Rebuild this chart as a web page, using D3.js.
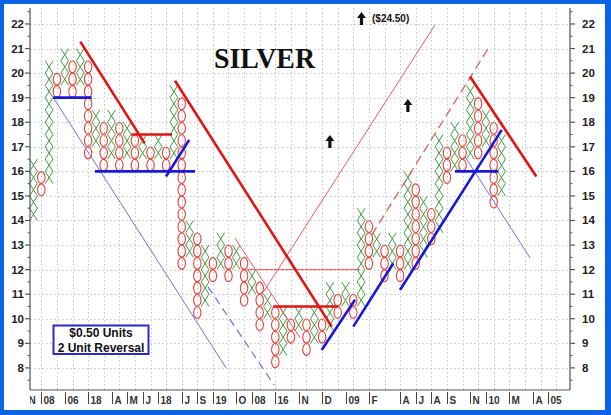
<!DOCTYPE html>
<html><head><meta charset="utf-8">
<script src="https://cdn.jsdelivr.net/npm/d3@7"></script>
<style>body{margin:0;background:#fff}svg{display:block}</style>
</head><body><svg id="c" width="611" height="415"></svg>
<script>
// ---- data ----
const colType = "XOXOXOXOXOXOXOXOXOXOXOXOXOXOXOXOXOXOXOXOXOXOXOXOXOXOXOXOXOXOX";
const colLow  = [14,15,15.5,19,19.5,19,19.5,16.5,17,16,16.5,16,16.5,16,16.5,16,16.5,16,16.5,12,12.5,10,10.5,11.5,12,11.5,12,10.5,11,9.5,10,8,8.5,9,9.5,8.5,9,9,9.5,10,10.5,10,10.5,12,12.5,11.5,12,11.5,12,12,12.5,13,13.5,15.5,16,16,16.5,16.5,17,14.5,15];
const colHigh = [16.5,16,20.5,20,21,20.5,21,20.5,18.5,18,18.5,18,18,17.5,17.5,17,17.5,17,19.5,19,14,13.5,13,12.5,13.5,13,13,12.5,12,11.5,11,10.5,10.5,10,10.5,10,10.5,10,11.5,11,11.5,11,14.5,14,13.5,13,13.5,13,16,15.5,15,14.5,17.5,17,18,17.5,19.5,19,18.5,18,17.5];
const boxSize = 0.5;
const yTicks = [8,9,10,11,12,13,14,15,16,17,18,19,20,21,22];
const xLabels    = ["N","08","06","18","A","M","J","18","J","S","19","O","08","16","N","D","09","F","A","J","A","S","N","10","M","A","05"];
const xLabelCols = [-1,1,4,7,10,12,14,16,19,21,23,26,28,31,34,37,40,43,47,49,51,53,56,58,61,64,66];
// trend lines [col1, value1, col2, value2]
const redThick = [[6.5,21.28,14.76,17.14],[13.04,17.5,18.26,17.5],[18.64,19.69,38.73,9.68],[31.24,10.5,39.58,10.5],[56.46,19.86,64.97,15.79]];
const redThin  = [[27.83,12,42.36,12],[29.8,11.0,51.97,21.96],[26.33,13.28,34.67,9.22]];
const redDashed = [[43.86,13.41,58.81,21.01]];
const blueThick = [[3.04,19,7.96,19],[8.38,16,21.21,16],[17.49,15.79,20.47,17.28],[37.45,8.73,41.72,10.77],[41.5,9.68,46.63,12.26],[47.49,11.17,60.53,17.69],[54.54,16,60.09,16]];
const blueThin = [[3.04,19,25.18,8.0],[55.82,16.6,64.15,12.48]];
const blueDashed = [[22.87,11.3,31.33,7.31]];
const arrows = [[42.55,21.96],[38.5,16.95],[48.5,18.42]];
const title = "SILVER";
const objectiveLabel = "($24.50)";
const boxLines = ["$0.50 Units","2 Unit Reversal"];

// ---- layout ----
const svg = d3.select("#c");
const L = 30, R = 570, T = 8, B = 390;
const x = d3.scaleLinear().domain([0, 69]).range([29.6, 29.6 + 69 * 7.8]);
const y = d3.scaleLinear().domain([7.1, 22.65]).range([B, T]);

// frame
svg.append("rect").attr("width", 611).attr("height", 415).attr("fill", "#0b63e5");
svg.append("rect").attr("x", 4).attr("y", 4).attr("width", 601).attr("height", 406).attr("fill", "#fff");

// grid
const g = svg.append("g");
g.selectAll(".hg").data(yTicks).join("line")
  .attr("x1", L).attr("x2", R).attr("y1", d => Math.round(y(d)) + 0.5).attr("y2", d => Math.round(y(d)) + 0.5)
  .attr("stroke", "#c4c4c4").attr("stroke-dasharray", "1.5,2.5").attr("stroke-width", 1);
const vcols = d3.range(1, 69, 2);
g.selectAll(".vg").data(vcols).join("line")
  .attr("x1", d => Math.round(x(d + 0.5)) + 0.5).attr("x2", d => Math.round(x(d + 0.5)) + 0.5)
  .attr("y1", T).attr("y2", B)
  .attr("stroke", "#c4c4c4").attr("stroke-dasharray", "1.5,2.5").attr("stroke-width", 1);

// boxes
const cols = colLow.map((lo, i) => ({i, t: colType[i], lo, hi: colHigh[i]}));
const boxes = [];
cols.forEach(c => { for (let v = c.lo; v < c.hi - 1e-9; v += boxSize) boxes.push({i: c.i, t: c.t, v}); });
const marks = svg.append("g");
boxes.filter(b => b.t === "X").forEach(b => {
  const x0 = x(b.i), x1 = x(b.i + 1), y0 = y(b.v + boxSize), y1 = y(b.v);
  marks.append("path")
    .attr("d", `M${x0},${y0}L${x1},${y1}M${x1},${y0}L${x0},${y1}`)
    .attr("stroke", "#3f9a3f").attr("stroke-width", 1).attr("fill", "none");
});
boxes.filter(b => b.t === "O").forEach(b => {
  marks.append("ellipse")
    .attr("cx", x(b.i + 0.5)).attr("cy", y(b.v + boxSize / 2))
    .attr("rx", 3.7).attr("ry", 5.9)
    .attr("stroke", "#e8403a").attr("stroke-width", 1.1).attr("fill", "none");
});

// trend lines
function drawLines(data, color, width, dash) {
  svg.append("g").selectAll("line").data(data).join("line")
    .attr("x1", d => x(d[0])).attr("y1", d => y(d[1]))
    .attr("x2", d => x(d[2])).attr("y2", d => y(d[3]))
    .attr("stroke", color).attr("stroke-width", width)
    .attr("stroke-dasharray", dash || null).attr("stroke-linecap", "butt");
}
drawLines(redThin, "#ec5a5a", 1);
drawLines(redDashed, "#e25050", 1.2, "9,5");
drawLines(blueThin, "#6e6ee6", 1);
drawLines(blueDashed, "#6e6ee6", 1.2, "8,5");
drawLines(redThick, "#e01414", 2.6);
drawLines(blueThick, "#1818d6", 2.6);

// axes
const ax = svg.append("g").attr("stroke", "#555").attr("stroke-width", 1.2);
ax.append("line").attr("x1", L).attr("x2", L).attr("y1", T).attr("y2", B);
ax.append("line").attr("x1", R).attr("x2", R).attr("y1", T).attr("y2", B);
ax.append("line").attr("x1", L).attr("x2", R).attr("y1", B).attr("y2", B);
const minor = d3.range(7.5, 22.6, 0.5).filter(v => !yTicks.includes(v));
yTicks.forEach(v => {
  ax.append("line").attr("x1", L - 5).attr("x2", L).attr("y1", y(v)).attr("y2", y(v));
  ax.append("line").attr("x1", R).attr("x2", R + 5).attr("y1", y(v)).attr("y2", y(v));
});
minor.forEach(v => {
  ax.append("line").attr("x1", L - 2.5).attr("x2", L).attr("y1", y(v)).attr("y2", y(v)).attr("stroke-width", 1);
  ax.append("line").attr("x1", R).attr("x2", R + 2.5).attr("y1", y(v)).attr("y2", y(v)).attr("stroke-width", 1);
});
const font = "'Liberation Sans', Arial, sans-serif";
svg.append("g").selectAll("text").data(yTicks).join("text")
  .attr("x", 24).attr("y", d => y(d) + 4).attr("text-anchor", "end")
  .attr("font-family", font).attr("font-weight", "bold").attr("font-size", 11.5).attr("fill", "#222").text(d => d);
svg.append("g").selectAll("text").data(yTicks).join("text")
  .attr("x", 582).attr("y", d => y(d) + 4).attr("text-anchor", "start")
  .attr("font-family", font).attr("font-weight", "bold").attr("font-size", 11.5).attr("fill", "#222").text(d => d);

// x labels
svg.append("clipPath").attr("id", "xc").append("rect").attr("x", L).attr("y", B).attr("width", 560).attr("height", 20);
const xl = svg.append("g").attr("clip-path", "url(#xc)");
xLabels.forEach((t, k) => {
  const px = Math.round(x(xLabelCols[k] + 0.5)) + 0.5;
  xl.append("line").attr("x1", px).attr("x2", px).attr("y1", 392).attr("y2", 404).attr("stroke", "#444").attr("stroke-width", 1);
  xl.append("text").attr("x", px + 2).attr("y", 403.5)
    .attr("font-family", font).attr("font-weight", "bold").attr("font-size", 10).attr("fill", "#333").text(t);
});

// arrows
arrows.forEach(a => {
  const px = x(a[0]), py = y(a[1]);
  svg.append("path")
    .attr("d", `M${px - 1.6},${py}L${px - 1.6},${py - 7}L${px - 4.5},${py - 7}L${px},${py - 13}L${px + 4.5},${py - 7}L${px + 1.6},${py - 7}L${px + 1.6},${py}Z`)
    .attr("fill", "#111");
});
svg.append("text").attr("x", 372).attr("y", 22).attr("font-family", font).attr("font-weight", "bold")
  .attr("font-size", 10).attr("fill", "#111").text(objectiveLabel);

// title
svg.append("text").attr("x", 214).attr("y", 68).attr("font-family", "'Liberation Serif', 'Times New Roman', serif")
  .attr("font-weight", "bold").attr("font-size", 29).attr("fill", "#111")
  .attr("textLength", 101).attr("lengthAdjust", "spacingAndGlyphs").text(title);

// units box
svg.append("rect").attr("x", 53.5).attr("y", 325.5).attr("width", 95).attr("height", 28.5)
  .attr("fill", "#fff").attr("stroke", "#2a2ac8").attr("stroke-width", 2);
boxLines.forEach((t, k) => {
  svg.append("text").attr("x", 101).attr("y", 337 + k * 14.5).attr("text-anchor", "middle")
    .attr("font-family", font).attr("font-weight", "bold").attr("font-size", 12).attr("fill", "#111").text(t);
});
</script>
</body></html>
